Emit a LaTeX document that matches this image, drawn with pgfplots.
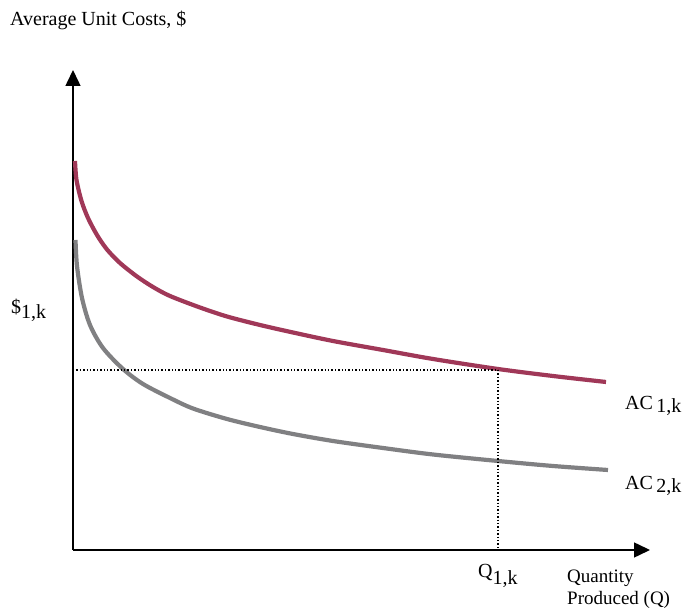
\documentclass[border=0pt]{standalone}
\usepackage{pgfplots}
\pgfplotsset{compat=1.18}
\usepackage{fontspec}
\setmainfont{Liberation Serif}
\usetikzlibrary{arrows.meta}
\definecolor{acred}{RGB}{160,56,88}
\definecolor{acgray}{RGB}{128,128,130}
\tikzset{lbl/.style={font=\fontsize{20}{23}\selectfont, inner sep=0pt, anchor=base west}}
\begin{document}
\begin{tikzpicture}
\begin{axis}[
  scale only axis, width=577pt, height=480pt,
  xmin=0, xmax=577, ymin=0, ymax=480,
  axis lines=left,
  axis line style={line width=1.5pt, -{Triangle[length=16pt,width=15pt]}},
  xtick=\empty, ytick=\empty,
  clip=false,
]
\path (axis cs:-73,-62) rectangle (axis cs:625,550);
% AC1 (red)
\addplot[acred, line width=4.2pt, smooth, tension=0.5] coordinates {
(2,389) (3.5,370) (8.5,349) (15,332) (24,315) (34,300.5) (47,287) (64,273.5) (80,263) (97,254) (127,242.5) (154,233.5) (187,225) (220,217.5) (260,209) (310,200) (360,191) (425,181) (480,174) (533,168)};
% AC2 (gray)
\addplot[acgray, line width=4.2pt, smooth, tension=0.5] coordinates {
(2.5,310) (4,284) (9,252) (17,225) (30,202) (50,181) (70,166) (97,152) (120,141.5) (154,131) (187,123) (220,116) (260,109) (310,102) (360,95.5) (425,89) (480,84) (535,80)};
% dotted guides
\addplot[black, line width=1.4pt, dotted] coordinates {(0,180) (425,180)};
\addplot[black, line width=1.4pt, dotted] coordinates {(425,180) (425,0)};
% labels
\node[lbl] at (axis cs:-63,524) {Average Unit Costs, \$};
\node[lbl] at (axis cs:-62,236) {\$\raisebox{-0.45ex}{1,k}};
\node[lbl] at (axis cs:552,140) {AC\,\raisebox{-0.3ex}{1,k}};
\node[lbl] at (axis cs:552,60) {AC\,\raisebox{-0.3ex}{2,k}};
\node[lbl] at (axis cs:405,-28) {Q\raisebox{-0.75ex}{1,k}};
\node[lbl, font=\fontsize{19}{22}\selectfont] at (axis cs:494,-33) {Quantity};
\node[lbl, font=\fontsize{19}{22}\selectfont] at (axis cs:494,-55) {Produced (Q)};
\end{axis}
\end{tikzpicture}
\end{document}
